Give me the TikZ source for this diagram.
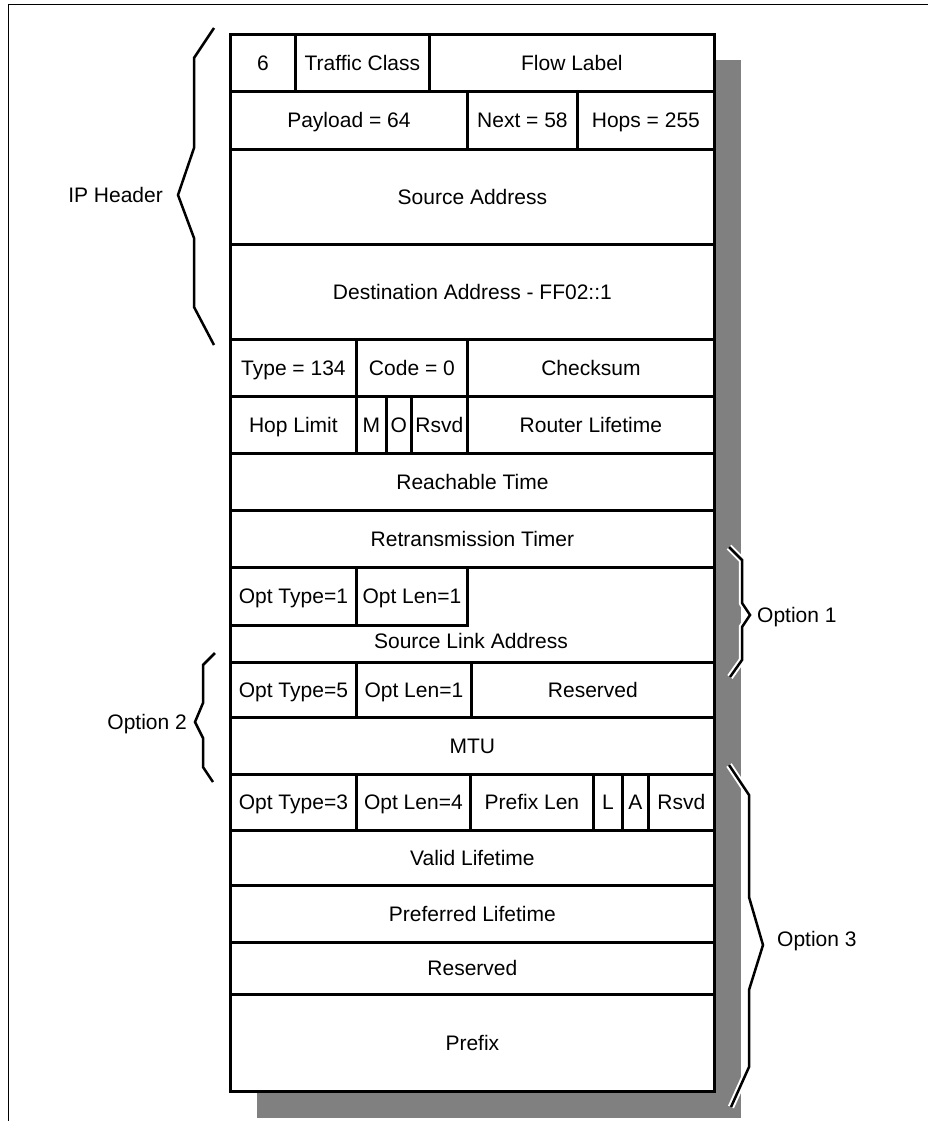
\documentclass[tikz,border=0pt]{standalone}
\usepackage{fontspec}
\setmainfont{Liberation Sans}
\usepackage{tikz}
\usetikzlibrary{positioning}
\definecolor{ShadowGray}{RGB}{128, 128, 128}
\definecolor{FrameBlack}{RGB}{0, 0, 0}

\begin{document}
\begin{tikzpicture}[
    x=1pt,
    y=-1pt,
    cellbox/.style={
        rectangle,
        draw=FrameBlack,
        line width=2.8pt,
        fill=white,
        anchor=north west,
        inner sep=0pt,
        text height=15pt,
        text depth=0pt,
        font=\fontsize{21}{25}\selectfont
    },
    labeltext/.style={
        inner sep=0pt,
        text height=15pt,
        text depth=0pt,
        font=\fontsize{21}{25}\selectfont
    },
    braceline/.style={
        draw=FrameBlack,
        line width=2.5pt,
        preaction={draw=white, line width=6.5pt}
    }
]
\useasboundingbox (0,0) rectangle (928,1121);
% -------------------------------------------------------------
% PAGE FRAME AND SHADOW
% -------------------------------------------------------------
\draw[line width=1pt] (8,1121) -- (8,5) -- (928,5);
\fill[ShadowGray] (257,60) rectangle (741,1118);
% -------------------------------------------------------------
% IP HEADER
% -------------------------------------------------------------
\node[cellbox, minimum width=65pt, minimum height=57pt] (versionNode) at (229,33) {6};
\node[cellbox, minimum width=134pt, minimum height=57pt] (trafficNode) at (294,33) {Traffic Class};
\node[cellbox, minimum width=285pt, minimum height=57pt] (flowNode) at (428,33) {Flow Label};
\node[cellbox, minimum width=237pt, minimum height=58pt] (payloadNode) at (229,90) {Payload = 64};
\node[cellbox, minimum width=110pt, minimum height=58pt] (nextNode) at (466,90) {Next = 58};
\node[cellbox, minimum width=137pt, minimum height=58pt] (hopsNode) at (576,90) {Hops = 255};
\node[cellbox, minimum width=484pt, minimum height=95pt] (srcAddrNode) at (229,148) {Source Address};
\node[cellbox, minimum width=484pt, minimum height=95pt] (dstAddrNode) at (229,243) {Destination Address - FF02::1};
% -------------------------------------------------------------
% ROUTER ADVERTISEMENT
% -------------------------------------------------------------
\node[cellbox, minimum width=126pt, minimum height=57pt] (typeNode) at (229,338) {Type = 134};
\node[cellbox, minimum width=111pt, minimum height=57pt] (codeNode) at (355,338) {Code = 0};
\node[cellbox, minimum width=247pt, minimum height=57pt] (checksumNode) at (466,338) {Checksum};
\node[cellbox, minimum width=126pt, minimum height=57pt] (hopLimitNode) at (229,395) {Hop Limit};
\node[cellbox, minimum width=30pt, minimum height=57pt] (mFlagNode) at (355,395) {M};
\node[cellbox, minimum width=25pt, minimum height=57pt] (oFlagNode) at (385,395) {O};
\node[cellbox, minimum width=56pt, minimum height=57pt] (raRsvdNode) at (410,395) {Rsvd};
\node[cellbox, minimum width=247pt, minimum height=57pt] (lifetimeNode) at (466,395) {Router Lifetime};
\node[cellbox, minimum width=484pt, minimum height=57pt] (reachNode) at (229,452) {Reachable Time};
\node[cellbox, minimum width=484pt, minimum height=57pt] (retransNode) at (229,509) {Retransmission Timer};
% -------------------------------------------------------------
% OPTION 1
% -------------------------------------------------------------
\node[cellbox, minimum width=484pt, minimum height=95pt] (srcLinkRow) at (229,566) {};
\node[cellbox, minimum width=126pt, minimum height=58pt] (opt1TypeNode) at (229,566) {Opt Type=1};
\node[cellbox, minimum width=111pt, minimum height=58pt] (opt1LenNode) at (355,566) {Opt Len=1};
\node[labeltext] (srcLinkNode) at (471,641) {Source Link Address};
% -------------------------------------------------------------
% OPTION 2
% -------------------------------------------------------------
\node[cellbox, minimum width=126pt, minimum height=55pt] (opt5TypeNode) at (229,661) {Opt Type=5};
\node[cellbox, minimum width=115pt, minimum height=55pt] (opt5LenNode) at (355,661) {Opt Len=1};
\node[cellbox, minimum width=243pt, minimum height=55pt] (opt5RsvdNode) at (470,661) {Reserved};
\node[cellbox, minimum width=484pt, minimum height=57pt] (mtuNode) at (229,716) {MTU};
% -------------------------------------------------------------
% OPTION 3
% -------------------------------------------------------------
\node[cellbox, minimum width=126pt, minimum height=56pt] (opt3TypeNode) at (229,773) {Opt Type=3};
\node[cellbox, minimum width=114pt, minimum height=56pt] (opt3LenNode) at (355,773) {Opt Len=4};
\node[cellbox, minimum width=123pt, minimum height=56pt] (prefixLenNode) at (469,773) {Prefix Len};
\node[cellbox, minimum width=29pt, minimum height=56pt] (lFlagNode) at (592,773) {L};
\node[cellbox, minimum width=26pt, minimum height=56pt] (aFlagNode) at (621,773) {A};
\node[cellbox, minimum width=66pt, minimum height=56pt] (opt3RsvdNode) at (647,773) {Rsvd};
\node[cellbox, minimum width=484pt, minimum height=55pt] (validNode) at (229,829) {Valid Lifetime};
\node[cellbox, minimum width=484pt, minimum height=57pt] (preferredNode) at (229,884) {Preferred Lifetime};
\node[cellbox, minimum width=484pt, minimum height=52pt] (reservedNode) at (229,941) {Reserved};
\node[cellbox, minimum width=484pt, minimum height=97pt] (prefixNode) at (229,993) {Prefix};
% -------------------------------------------------------------
% BRACES
% -------------------------------------------------------------
\coordinate (ipTop) at (214,28);
\coordinate (ipTip) at (178,195);
\coordinate (ipBottom) at (214,345);
\draw[braceline] (ipTop) -- (194,58) -- (194,148) -- (ipTip) -- (194,238) -- (194,307) -- (ipBottom);
\node[labeltext, left=15pt of ipTip] (ipLabel) {IP Header};

\coordinate (opt1Top) at (729,547);
\coordinate (opt1Tip) at (750,615);
\coordinate (opt1Bottom) at (730,677);
\draw[braceline] (opt1Top) -- (742,560) -- (742,603) -- (opt1Tip) -- (742,627) -- (742,660) -- (opt1Bottom);
\node[labeltext, right=7pt of opt1Tip] (opt1Label) {Option 1};

\coordinate (opt2Top) at (215,653);
\coordinate (opt2Tip) at (195,722);
\coordinate (opt2Bottom) at (213,782);
\draw[braceline] (opt2Top) -- (203,665) -- (203,703) -- (opt2Tip) -- (203,738) -- (203,767) -- (opt2Bottom);
\node[labeltext, left=8pt of opt2Tip] (opt2Label) {Option 2};

\coordinate (opt3Top) at (729,765);
\coordinate (opt3Tip) at (763,945);
\coordinate (opt3Bottom) at (731,1107);
\draw[braceline] (opt3Top) -- (749,795) -- (749,897) -- (opt3Tip) -- (749,990) -- (749,1067) -- (opt3Bottom);
\node[labeltext, right=14pt of opt3Tip, yshift=6pt] (opt3Label) {Option 3};
\end{tikzpicture}
\end{document}
